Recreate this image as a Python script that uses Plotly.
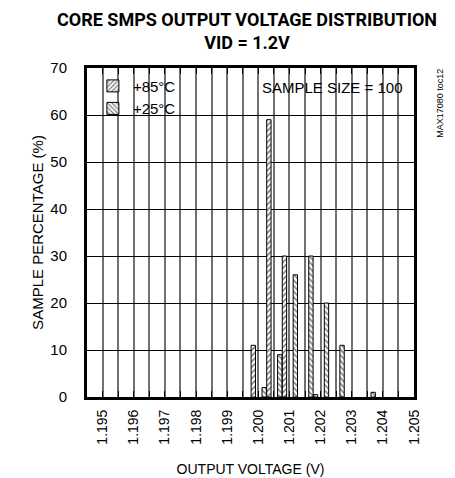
import plotly.graph_objects as go

# Data
bins_85 = [1.2000, 1.2005, 1.2010, 1.2020]
pct_85 = [11, 59, 30, 0.5]
bins_25 = [1.2000, 1.2005, 1.2010, 1.2015, 1.2020, 1.2025, 1.2035]
pct_25 = [2, 9, 26, 30, 20, 11, 1]
tick_vals = [1.195 + 0.0005 * i for i in range(21)]
tick_text = [("%.3f" % v if i % 2 == 0 else "") for i, v in enumerate(tick_vals)]

FONT = "Liberation Sans, Arial"
TFONT = "Roboto, Liberation Sans"

fig = go.Figure()
fig.add_trace(go.Bar(
    x=bins_85, y=pct_85, name="+85°C",
    width=0.00014, offset=-0.00023,
    marker=dict(color="white", line=dict(color="black", width=1),
                pattern=dict(shape="/", fgcolor="black", size=4, solidity=0.4)),
))
fig.add_trace(go.Bar(
    x=bins_25, y=pct_25, name="+25°C",
    width=0.00014, offset=0.00012,
    marker=dict(color="white", line=dict(color="black", width=1),
                pattern=dict(shape="\\", fgcolor="black", size=4, solidity=0.4)),
))

# white boxes over gridlines (legend & sample size)
fig.add_shape(type="rect", xref="paper", yref="paper", x0=0, x1=0.284, y0=0.857, y1=1,
              fillcolor="white", line=dict(width=0), layer="between")
fig.add_shape(type="rect", xref="paper", yref="paper", x0=0.56, x1=1, y0=0.903, y1=1,
              fillcolor="white", line=dict(width=0), layer="between")

fig.add_annotation(xref="paper", yref="paper", x=0.972, y=0.942, xanchor="right", yanchor="middle",
                   text="SAMPLE SIZE = 100", showarrow=False, font=dict(family=FONT, size=15, color="black"))
fig.add_annotation(xref="paper", yref="paper", x=1.0795, y=0.894, xanchor="center", yanchor="middle",
                   text="MAX17080 toc12", textangle=-90, showarrow=False,
                   font=dict(family=FONT, size=9, color="black"))
# title
fig.add_annotation(xref="paper", yref="paper", x=0.49, y=1.185, xanchor="center", yanchor="top",
                   text="<b>CORE SMPS OUTPUT VOLTAGE DISTRIBUTION<br>VID = 1.2V</b>",
                   showarrow=False, font=dict(family=TFONT, size=18, color="black"))

fig.update_layout(
    width=447, height=470,
    margin=dict(l=79, r=41, t=60, b=81, autoexpand=False),
    paper_bgcolor="white", plot_bgcolor="white",
    barmode="overlay",
    showlegend=True,
    legend=dict(x=0.018, y=0.995, xanchor="left", yanchor="top", bgcolor="rgba(0,0,0,0)",
                font=dict(family=FONT, size=15, color="black"), tracegroupgap=0,
                itemwidth=30),
    font=dict(family=FONT, size=15, color="black"),
)
fig.update_xaxes(
    range=[1.1945, 1.205], tickmode="array", tickvals=tick_vals, ticktext=tick_text,
    tickangle=-90, showgrid=True, gridcolor="#707070", gridwidth=1.5,
    showline=True, linecolor="black", linewidth=3, mirror="allticks",
    ticks="inside", ticklen=6, tickcolor="black", tickwidth=1,
    zeroline=False, tickfont=dict(family=FONT, size=14), automargin=False, ticklabelstandoff=4,
    title=dict(text="OUTPUT VOLTAGE (V)", font=dict(family=FONT, size=14), standoff=21),
)
fig.update_yaxes(
    range=[0, 70], dtick=10, showgrid=True, gridcolor="black", gridwidth=1,
    showline=True, linecolor="black", linewidth=3, mirror="allticks",
    ticks="inside", ticklen=6, tickcolor="black", tickwidth=1,
    zeroline=False, tickfont=dict(family=FONT, size=15), ticklabelstandoff=14, automargin=False,
    title=dict(text="SAMPLE PERCENTAGE (%)", font=dict(family=FONT, size=15), standoff=4),
)

fig.write_html("out.html")
